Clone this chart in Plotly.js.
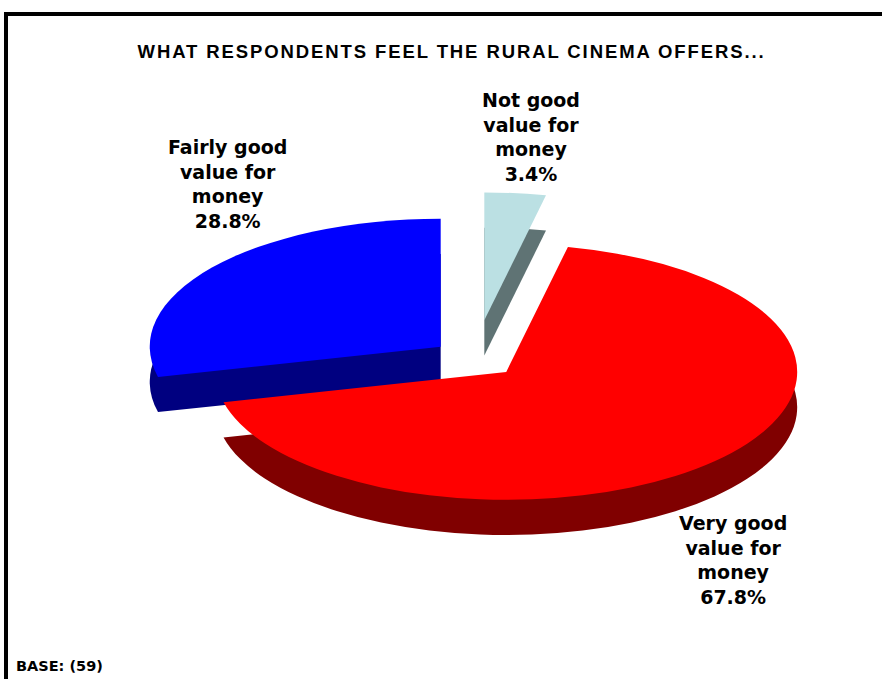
<!DOCTYPE html>
<html>
<head>
<meta charset="utf-8">
<script src="https://cdn.plot.ly/plotly-3.0.1.min.js"></script>
<style>
html,body{margin:0;padding:0;background:#fff;}
#wrap{position:relative;width:882px;height:679px;overflow:hidden;background:#fff;}
#frame{position:absolute;left:4px;top:12px;width:900px;height:700px;border-left:4px solid #000;border-top:4px solid #000;pointer-events:none;z-index:5;}
#pie{position:absolute;left:0;top:0;width:882px;height:679px;transform-origin:475px 358.5px;transform:scale(1.94,0.853);}
#txt{position:absolute;left:0;top:0;width:882px;height:679px;}
#txt .gtitle{letter-spacing:1.9px;}
</style>
</head>
<body>
<div id="wrap"><div id="pie"></div><div id="txt"></div><div id="frame"></div></div>
<script>
// Data
var categories = ["Not good<br>value for<br>money", "Very good<br>value for<br>money", "Fairly good<br>value for<br>money"];
var shares = [3.4, 67.8, 28.8];
var topColors = ["#BBE0E3", "#FF0000", "#0000FF"];
var sideColors = ["#5F7374", "#800000", "#000080"];
var titleText = "WHAT RESPONDENTS FEEL THE RURAL CINEMA OFFERS...";
var baseText = "BASE: (59)";

// explode distances (style)
var pulls = [0.3, 0.15, 0.15];

var sideTrace = {
  type: "pie", values: shares, labels: categories, sort: false,
  direction: "clockwise", rotation: 0, pull: pulls,
  marker: {colors: sideColors, line: {width: 0}},
  textinfo: "none", hoverinfo: "skip", showlegend: false,
  domain: {x: [0.3175, 0.7596], y: [0.1240, 0.6984]}
};
var faceTrace = {
  type: "pie", values: shares, labels: categories, sort: false,
  direction: "clockwise", rotation: 0, pull: pulls,
  marker: {colors: topColors, line: {width: 0}},
  textinfo: "none", hoverinfo: "label+percent", showlegend: false,
  domain: {x: [0.3175, 0.7596], y: [0.1848, 0.7592]}
};

Plotly.newPlot("pie", [sideTrace, faceTrace], {
  width: 882, height: 679, margin: {l: 0, r: 0, t: 0, b: 0},
  paper_bgcolor: "rgba(0,0,0,0)", plot_bgcolor: "rgba(0,0,0,0)"
}, {displayModeBar: false, staticPlot: true});

// label placement (layout only)
var labelPos = [[0.602, 0.798], [0.831, 0.175], [0.2585, 0.729]];
var lblFont = {family: "DejaVu Sans, Verdana, sans-serif", size: 19, color: "#000"};
var annotations = categories.map(function (c, i) {
  return {text: "<b>" + c + "<br>" + shares[i].toFixed(1) + "%</b>", xref: "paper", yref: "paper",
    x: labelPos[i][0], y: labelPos[i][1], xanchor: "center", yanchor: "middle", align: "center",
    showarrow: false, font: lblFont};
});
annotations.push({text: "<b>" + baseText + "</b>", xref: "paper", yref: "paper", x: 0.016, y: 0.004,
  xanchor: "left", yanchor: "bottom", showarrow: false,
  font: {family: "DejaVu Sans, Verdana, sans-serif", size: 14.5, color: "#000"}});

Plotly.newPlot("txt", [], {
  width: 882, height: 679, margin: {l: 0, r: 0, t: 0, b: 0},
  paper_bgcolor: "rgba(0,0,0,0)", plot_bgcolor: "rgba(0,0,0,0)",
  xaxis: {visible: false}, yaxis: {visible: false},
  title: {text: "<b>" + titleText + "</b>", font: {family: "Liberation Sans, Arial, sans-serif", size: 18.5, color: "#000"},
          x: 0.512, xanchor: "center", y: 0.9234, yanchor: "middle", yref: "container"},
  annotations: annotations
}, {displayModeBar: false, staticPlot: true});
</script>
</body>
</html>
